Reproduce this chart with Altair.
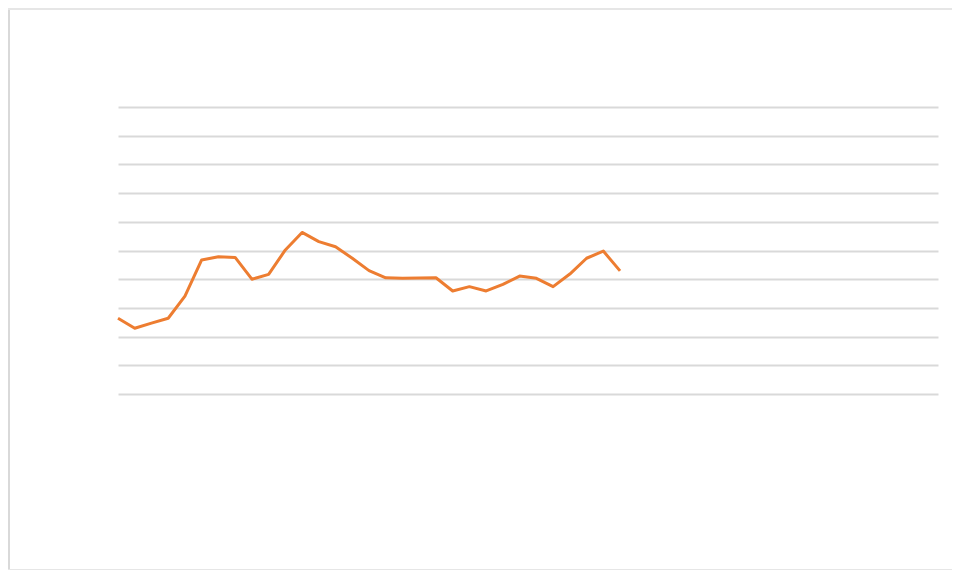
import altair as alt
import pandas as pd

# x positions (category index) and values
x_index = list(range(31))
values = [26.4, 22.9, 24.7, 26.4, 34.1, 46.7, 47.8, 47.6, 40.0, 41.7,
          50.2, 56.3, 53.1, 51.3, 47.3, 43.0, 40.5, 40.3, 40.4, 40.5,
          35.9, 37.4, 35.9, 38.2, 41.1, 40.3, 37.4, 41.8, 47.3, 49.8, 42.9]
x_domain = [0, 49]
y_domain = [0, 100]
y_ticks = list(range(0, 101, 10))

df = pd.DataFrame({"i": x_index, "v": values})
one = pd.DataFrame({"a": [0]})

left_edge = alt.Chart(one).mark_rule(color="#d9d9d9", strokeWidth=2).encode(
    x=alt.value(-109), y=alt.value(-99), y2=alt.value(465))
top_edge = alt.Chart(one).mark_rule(color="#e6e6e6", strokeWidth=2).encode(
    x=alt.value(-110), x2=alt.value(840), y=alt.value(-98))
bottom_edge = alt.Chart(one).mark_rule(color="#e6e6e6", strokeWidth=2).encode(
    x=alt.value(-110), x2=alt.value(840), y=alt.value(463))

line = alt.Chart(df).mark_line(color="#ED7D31", strokeWidth=3, strokeJoin="round").encode(
    x=alt.X("i:Q", scale=alt.Scale(domain=x_domain, nice=False, zero=False),
            axis=alt.Axis(labels=False, ticks=False, domain=False, grid=False, title=None)),
    y=alt.Y("v:Q", scale=alt.Scale(domain=y_domain, nice=False),
            axis=alt.Axis(values=y_ticks, labels=False, ticks=False, domain=False,
                          grid=True, gridColor="#d9d9d9", gridWidth=1.8, title=None)),
)

chart = alt.layer(left_edge, top_edge, bottom_edge, line).properties(
    width=820, height=287,
    padding={"left": 110, "top": 99, "right": 14, "bottom": 176},
    autosize=alt.AutoSizeParams(type="none"),
    background="white",
).configure_view(stroke=None)

chart.save("out.html", embed_options={"renderer": "svg", "actions": False})
